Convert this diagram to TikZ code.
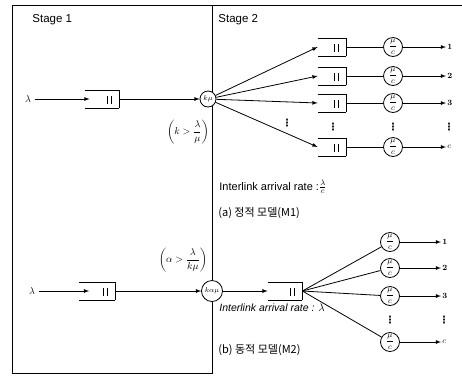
\documentclass[tikz,border=0pt]{standalone}
\usepackage{fontspec}
\setsansfont{Liberation Sans}
\newfontfamily\kor{Noto Sans CJK KR}
\newfontfamily\dejavu{DejaVu Sans}
\usetikzlibrary{positioning}
\tikzset{>=latex}

\begin{document}
\begin{tikzpicture}[x=1pt,y=1pt,line width=0.8pt,font=\sffamily,
   queue/.style={minimum height=17pt,inner sep=0pt,
      append after command={
        (\tikzlastnode.north west) edge (\tikzlastnode.north east)
        (\tikzlastnode.north east) edge (\tikzlastnode.south east)
        (\tikzlastnode.south east) edge (\tikzlastnode.south west)
        ([xshift=-12pt,yshift=-6pt]\tikzlastnode.north east) edge ([xshift=-12pt,yshift=4pt]\tikzlastnode.south east)
        ([xshift=-8pt,yshift=-6pt]\tikzlastnode.north east) edge ([xshift=-8pt,yshift=4pt]\tikzlastnode.south east)}},
   srv/.style={circle,draw,fill=white,inner sep=0pt,minimum size=19pt,font=\footnotesize},
   outlabel/.style={inner sep=1pt,font=\footnotesize\bfseries},
   txt/.style={anchor=west,inner sep=1pt,font=\fontsize{11}{13}\sffamily},
   vdot/.style={inner sep=0pt,font=\dejavu\bfseries\normalsize},
]
\useasboundingbox (0,0) rectangle (462,-376);
\draw (12,-5) rectangle (212,-373);
\draw (212,-5) -- (462,-5);

\node[txt,font=\fontsize{11.5}{13}\sffamily] (stage1) at (31,-20) {Stage 1};
\node[txt,font=\fontsize{11.5}{13}\sffamily] (stage2) at (217,-20) {Stage 2};

% (a) static model
\node (lam1) at (28,-99) {$\lambda$};
\node[queue,minimum width=34pt] (qa) at (102,-99) {};
\node[srv,minimum size=16pt,font=\scriptsize] (kmu) at (208,-99) {$k\mu$};
\node (conda) at (188,-132) {$\left(k>\displaystyle\frac{\lambda}{\mu}\right)$};

\node[queue,minimum width=28pt] (qa1) at (332,-47) {};
\node[queue,minimum width=28pt] (qa2) at (332,-76) {};
\node[queue,minimum width=28pt] (qa3) at (332,-103) {};
\node[queue,minimum width=28pt] (qa4) at (332,-147) {};
\node[srv] (sa1) at (393,-47) {$\displaystyle\frac{\mu}{c}$};
\node[srv] (sa2) at (393,-76) {$\displaystyle\frac{\mu}{c}$};
\node[srv] (sa3) at (393,-103) {$\displaystyle\frac{\mu}{c}$};
\node[srv] (sa4) at (393,-147) {$\displaystyle\frac{\mu}{c}$};
\node[outlabel,anchor=west] (oa1) at (446,-47) {1};
\node[outlabel,anchor=west] (oa2) at (446,-76) {2};
\node[outlabel,anchor=west] (oa3) at (446,-103) {3};
\node[outlabel,anchor=west] (oa4) at (446,-147) {$c$};
\node[vdot] (dotsa0) at (287,-123) {⋮};
\node[vdot] (dotsa1) at (333,-127) {⋮};
\node[vdot] (dotsa2) at (393,-127) {⋮};
\node[vdot] (dotsa3) at (449,-127) {⋮};
\node[txt] (ratea) at (218,-187) {Interlink arrival rate :$\frac{\lambda}{c}$};
\node[txt,font=\kor\fontsize{11}{13}\selectfont] (capa) at (217,-213) {(a) 정적 모델(M1)};

\draw[->] (lam1) -- ([xshift=5pt]qa.west);
\draw[->] (qa.east) -- (kmu);
\draw[->] (kmu) -- (qa1.west);
\draw[->] (kmu) -- (qa2.west);
\draw[->] (kmu) -- (qa3.west);
\draw[->] (kmu) -- (qa4.west);
\draw (qa1.east) -- (sa1);
\draw (qa2.east) -- (sa2);
\draw (qa3.east) -- (sa3);
\draw (qa4.east) -- (sa4);
\draw[->] (sa1) -- (oa1);
\draw[->] (sa2) -- (oa2);
\draw[->] (sa3) -- (oa3);
\draw[->] (sa4) -- (oa4);

% (b) dynamic model
\node (lam2) at (32,-291) {$\lambda$};
\node[queue,minimum width=35pt] (qb) at (97,-291) {};
\node[srv,minimum size=21pt,font=\scriptsize] (kamu) at (212,-291) {$k\alpha\mu$};
\node (condb) at (183,-260) {$\left(\alpha>\displaystyle\frac{\lambda}{k\mu}\right)$};
\node[queue,minimum width=34pt] (qc) at (285,-291) {};

\node[srv] (sb1) at (390,-242) {$\displaystyle\frac{\mu}{c}$};
\node[srv] (sb2) at (390,-268) {$\displaystyle\frac{\mu}{c}$};
\node[srv] (sb3) at (390,-296) {$\displaystyle\frac{\mu}{c}$};
\node[srv] (sb4) at (390,-342) {$\displaystyle\frac{\mu}{c}$};
\node[outlabel,anchor=west] (ob1) at (441,-242) {1};
\node[outlabel,anchor=west] (ob2) at (441,-268) {2};
\node[outlabel,anchor=west] (ob3) at (441,-296) {3};
\node[outlabel,anchor=west] (ob4) at (441,-342) {$c$};
\node[vdot] (dotsb1) at (390,-320) {⋮};
\node[vdot] (dotsb2) at (444,-320) {⋮};
\node[txt,font=\fontsize{10.5}{13}\sffamily\itshape] (rateb) at (218,-308) {Interlink arrival rate : $\lambda$};
\node[txt,font=\kor\fontsize{11}{13}\selectfont] (capb) at (217,-350) {(b) 동적 모델(M2)};

\draw[->] (lam2) -- ([xshift=10pt]qb.west);
\draw[->] (qb.east) -- (kamu);
\draw[->] (kamu) -- (qc.west);
\draw (qc.east) -- (sb1);
\draw (qc.east) -- (sb2);
\draw (qc.east) -- (sb3);
\draw (qc.east) -- (sb4);
\draw[->] (sb1) -- (ob1);
\draw[->] (sb2) -- (ob2);
\draw[->] (sb3) -- (ob3);
\draw[->] (sb4) -- (ob4);
\end{tikzpicture}
\end{document}
